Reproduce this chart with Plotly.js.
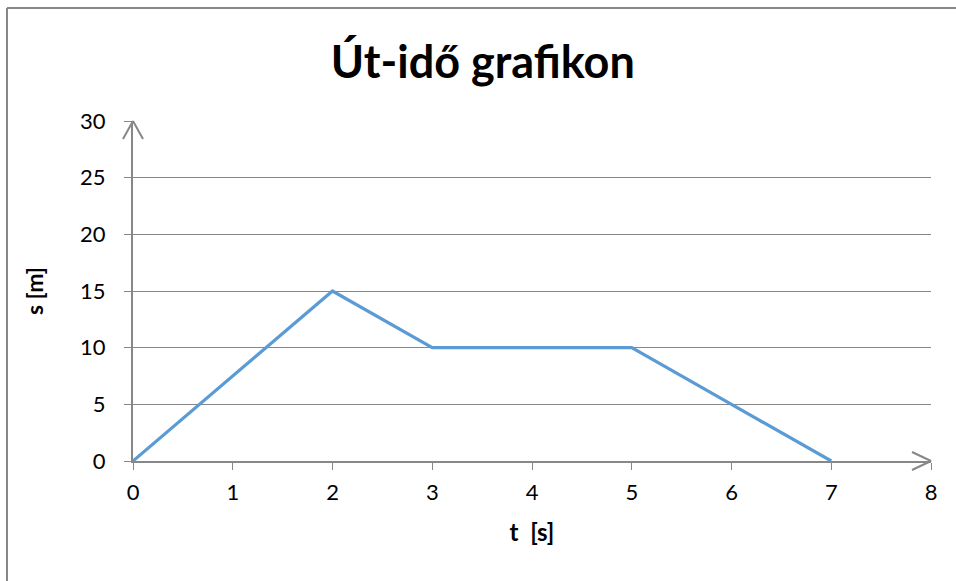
<!DOCTYPE html>
<html><head><meta charset="utf-8">
<script src="https://cdn.plot.ly/plotly-3.0.1.min.js"></script>
<style>html,body{margin:0;padding:0;background:#fff}#chart{width:956px;height:581px}</style>
</head><body><div id="chart"></div>
<script>
const tValues = [0, 1, 2, 3, 4, 5, 6, 7];
const sValues = [0, 7.5, 15, 10, 10, 10, 5, 0];
const xTicks = [0, 1, 2, 3, 4, 5, 6, 7, 8];
const yTicks = [0, 5, 10, 15, 20, 25, 30];
const titleText = 'Út-idő grafikon';
const xTitle = 't&nbsp;&nbsp;[s]';
const yTitle = 's [m]';

const L = 133, R = 25, T = 121, B = 120, W = 956, H = 581;
const pw = W - L - R, ph = H - T - B;
const px = v => (v - L) / pw;
const py = v => (H - B - v) / ph;
const grey = '#878787';
const FONT = 'Lato, Carlito, sans-serif';
function seg(x0, y0, x1, y1, w) {
  return {type: 'line', xref: 'paper', yref: 'paper', x0: px(x0), y0: py(y0), x1: px(x1), y1: py(y1),
    line: {color: grey, width: w}, layer: 'above'};
}
const shapes = [
  seg(7, 8, 980, 8, 2), seg(7, 8, 7, 600, 2),
  seg(133, 121, 123, 139, 2), seg(133, 121, 143, 139, 2),
  seg(931, 461, 912, 452, 2), seg(931, 461, 912, 470, 2)
];

const trace = {x: tValues, y: sValues, type: 'scatter', mode: 'lines',
  line: {color: '#5B9BD5', width: 3.2}, hoverinfo: 'none'};

const layout = {
  width: W, height: H,
  margin: {l: L, r: R, t: T, b: B},
  paper_bgcolor: '#fff', plot_bgcolor: '#fff',
  font: {family: FONT, color: '#000', size: 22},
  showlegend: false,
  title: {text: '<b>' + titleText + '</b>', font: {size: 45, family: FONT, color: '#000'},
    xref: 'container', yref: 'container', x: 0.505, xanchor: 'center', y: 1 - 62 / H, yanchor: 'middle'},
  xaxis: {range: [0, 8], tickvals: xTicks, ticktext: xTicks.map(String), showgrid: false, zeroline: false,
    showline: true, linecolor: grey, linewidth: 2, ticks: 'outside', ticklen: 7, tickcolor: grey, tickwidth: 1,
    tickfont: {size: 22}, ticklabelstandoff: 4,
    title: {text: '<b>' + xTitle + '</b>', font: {size: 24}, standoff: 20}, fixedrange: true},
  yaxis: {range: [0, 30], tickvals: yTicks, ticktext: yTicks.map(String), showgrid: true, gridcolor: grey, gridwidth: 1,
    zeroline: false, showline: true, linecolor: grey, linewidth: 2, ticks: 'outside', ticklen: 7, tickcolor: grey, tickwidth: 1,
    tickfont: {size: 22}, ticklabelstandoff: 14,
    title: {text: '<b>' + yTitle + '</b>', font: {size: 23}, standoff: 30}, fixedrange: true},
  shapes: shapes
};
Plotly.newPlot('chart', [trace], layout, {displayModeBar: false, staticPlot: true});
</script></body></html>
